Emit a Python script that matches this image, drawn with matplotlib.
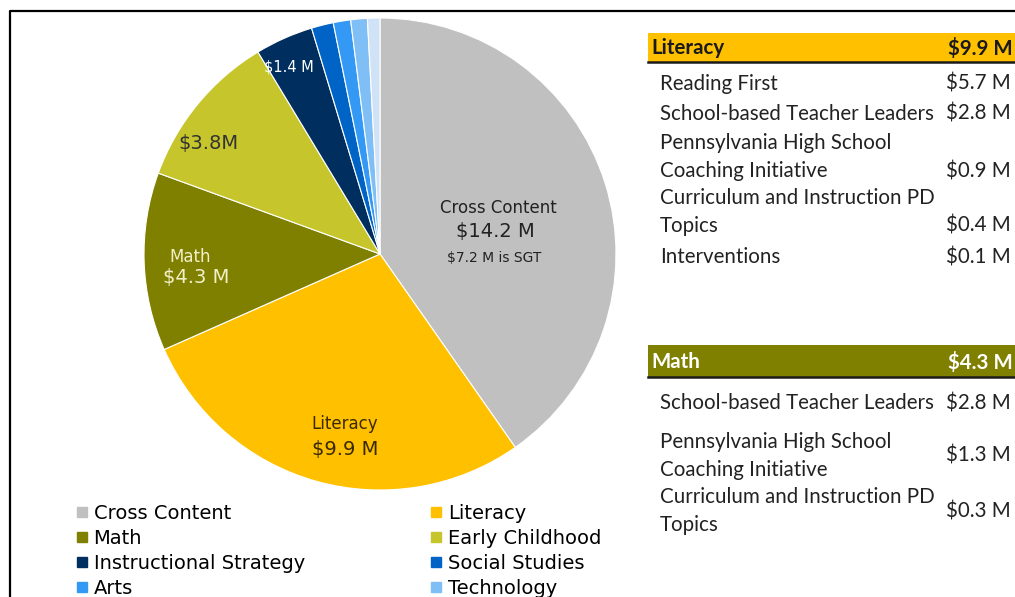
import matplotlib.pyplot as plt
from matplotlib.patches import Rectangle
from matplotlib.lines import Line2D

# funding by content area, $ millions
areas = ['Cross Content', 'Literacy', 'Math', 'Early Childhood',
         'Instructional Strategy', 'Social Studies', 'Arts', 'Technology', 'Other']
amounts = [14.2, 9.9, 4.3, 3.8, 1.4, 0.53, 0.42, 0.4, 0.3]
colors = ['#c0c0c0', '#ffc000', '#7f7f00', '#c6c62c',
          '#002f5f', '#0063c6', '#3399f5', '#80bff5', '#d0e2f5']

# breakdown tables
lit_total = '$9.9 M'
lit_rows = [('Reading First', '$5.7 M'),
            ('School-based Teacher Leaders', '$2.8 M'),
            ('Pennsylvania High School\nCoaching Initiative', '$0.9 M'),
            ('Curriculum and Instruction PD\nTopics', '$0.4 M'),
            ('Interventions', '$0.1 M')]
math_total = '$4.3 M'
math_rows = [('School-based Teacher Leaders', '$2.8 M'),
             ('Pennsylvania High School\nCoaching Initiative', '$1.3 M'),
             ('Curriculum and Instruction PD\nTopics', '$0.3 M')]

W, H = 1015, 597
fig = plt.figure(figsize=(W / 100, H / 100), dpi=100)

def px(x, y):
    # pixel coords (from top-left) -> figure fraction
    return x / W, 1 - y / H

# frame around the slide
fig.add_artist(Line2D([9.5 / W, 9.5 / W, 1], [0, 1 - 10.5 / H, 1 - 10.5 / H],
                      color='black', lw=1.6, transform=fig.transFigure))

# pie
cx, cy, r = 380, 254, 236
ax = fig.add_axes([(cx - r) / W, (H - cy - r) / H, 2 * r / W, 2 * r / H])
ax.pie(amounts, colors=colors, startangle=90, counterclock=False,
       wedgeprops=dict(edgecolor='white', linewidth=0.8))
ax.set_xlim(-1, 1)
ax.set_ylim(-1, 1)
ax.set_aspect('equal')

def dc(x, y):
    return (x - cx) / r, (cy - y) / r

lab = dict(ha='center', va='center', family='DejaVu Sans')
ax.text(*dc(498, 208), 'Cross Content', fontsize=12, color='#222222', **lab)
ax.text(*dc(495, 231), '$%.1f M' % amounts[0], fontsize=14, color='#222222', **lab)
ax.text(*dc(494, 258), '$7.2 M is SGT', fontsize=10, color='#222222', **lab)
ax.text(*dc(345, 424), areas[1], fontsize=12, color='#3a2a00', **lab)
ax.text(*dc(345, 449), '$%.1f M' % amounts[1], fontsize=14, color='#3a2a00', **lab)
ax.text(*dc(190, 257), areas[2], fontsize=12, color='#f2f0c8', **lab)
ax.text(*dc(196, 278), '$%.1f M' % amounts[2], fontsize=14, color='#f2f0c8', **lab)
ax.text(*dc(208, 143), '$%.1fM' % amounts[3], fontsize=14, color='#333333', **lab)
ax.text(*dc(289, 67), '$%.1f M' % amounts[4], fontsize=10.5, color='white', **lab)

# legend, two columns
handles = [Line2D([], [], ls='none', marker='s', markersize=7, color=c)
           for c in colors[:8]]
order = [0, 2, 4, 6, 1, 3, 5, 7]
fig.legend([handles[i] for i in order], [areas[i] for i in order],
           ncol=2, loc='upper left', bbox_to_anchor=px(76, 504),
           frameon=False, handlelength=0.6, handletextpad=0.3,
           columnspacing=6.45, labelspacing=0.3, borderaxespad=0, borderpad=0,
           prop={'family': 'DejaVu Sans', 'size': 14})

# tables
tfont = 'Lato'
fs = 14.8

def header(y0, y1, name, total, fc, tc):
    x0, y_b = px(648, y1)
    fig.add_artist(Rectangle((x0, y_b), 1 - x0, (y1 - y0) / H,
                             facecolor=fc, edgecolor='none', transform=fig.transFigure))
    fig.add_artist(Line2D([x0, 1], [y_b, y_b], color='#1a1a1a', lw=1.8,
                          transform=fig.transFigure))
    ym = (y0 + y1) / 2 + 1
    fig.text(*px(651, ym), name, fontsize=fs, fontweight='bold', color=tc,
             family=tfont, va='center', ha='left')
    fig.text(*px(1013, ym), total, fontsize=fs, fontweight='bold', color=tc,
             family=tfont, va='center', ha='right')

def rows(items, ys, vys):
    for (name, val), y, vy in zip(items, ys, vys):
        fig.text(*px(660, y), name, fontsize=fs, color='#222222', family=tfont,
                 va='center', ha='left', linespacing=1.5)
        fig.text(*px(1011, vy), val, fontsize=fs, color='#222222', family=tfont,
                 va='center', ha='right')

header(33, 62, 'Literacy', lit_total, '#ffc000', '#1a1a1a')
rows(lit_rows, [84, 114, 157, 212, 257], [84, 114, 171, 226, 257])

header(345, 377, 'Math', math_total, '#7f7f00', 'white')
rows(math_rows, [403, 456, 511], [403, 455, 511])

fig.savefig('out.png', dpi=100)
